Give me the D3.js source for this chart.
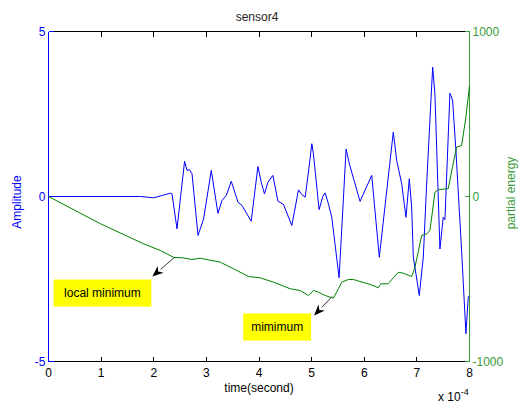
<!DOCTYPE html>
<html>
<head>
<meta charset="utf-8">
<script src="https://cdn.jsdelivr.net/npm/d3@7"></script>
<style>
  body { margin: 0; background: #fff; }
  svg text { font-family: "Liberation Sans", Arial, sans-serif; }
</style>
</head>
<body>
<div id="chart"></div>
<script>
// amplitude trace (time in 1e-4 s)
let ampTime = [0, 1.75, 2.0, 2.315, 2.347, 2.442, 2.586, 2.632, 2.681, 2.727, 2.841, 2.947, 3.093, 3.22, 3.296, 3.378, 3.473, 3.6, 3.676, 3.852, 3.979, 4.042, 4.104, 4.169, 4.264, 4.359, 4.465, 4.624, 4.75, 4.814, 4.877, 4.928, 5.004, 5.034, 5.142, 5.212, 5.256, 5.319, 5.383, 5.522, 5.655, 5.717, 5.92, 6.142, 6.286, 6.552, 6.617, 6.712, 6.793, 6.856, 6.901, 6.932, 7.046, 7.122, 7.186, 7.3, 7.343, 7.438, 7.501, 7.533, 7.628, 7.679, 7.742, 7.85, 7.932, 7.976, 8.0];
let amplitude = [0, 0, -0.04, 0.1, 0.08, -0.98, 1.07, 0.79, 0.81, 0.69, -1.18, -0.68, 0.79, -0.51, -0.12, 0.03, 0.46, -0.17, -0.27, -0.75, 0.91, 0.43, 0.08, 0.43, 0.64, -0.14, -0.24, -0.88, 0.2, 0.06, -0.02, 0.59, 1.6, 1.29, -0.4, 0.0, 0.11, -0.22, -0.63, -2.46, 1.44, 0.99, -0.15, 0.64, -1.84, 1.95, 1.09, 0.38, -0.63, 0.54, -0.32, -1.83, -3.0, -1.84, 0.38, 3.92, 3.11, -1.59, -0.63, -0.7, 3.13, 2.92, 1.39, -1.64, -4.16, -3.05, -3.0];

// partial energy trace
let energyTime = [0, 0.987, 1.808, 2.125, 2.385, 2.537, 2.727, 2.884, 3.042, 3.264, 3.516, 3.801, 4.023, 4.275, 4.592, 4.782, 4.939, 5.034, 5.129, 5.256, 5.414, 5.509, 5.573, 5.698, 5.793, 5.92, 6.11, 6.268, 6.313, 6.452, 6.647, 6.742, 6.901, 6.964, 7.091, 7.186, 7.249, 7.343, 7.406, 7.596, 7.679, 7.755, 7.85, 7.932, 8.0];
let energy = [0, -165, -287, -327, -370, -371, -382, -374, -384, -398, -438, -485, -493, -519, -559, -570, -600, -570, -580, -600, -616, -559, -519, -503, -503, -515, -533, -553, -529, -529, -459, -465, -485, -428, -236, -226, -206, 26, 41, 48, 182, 299, 309, 481, 673];

let xTicks = [0, 1, 2, 3, 4, 5, 6, 7, 8];
let leftTicks = [-5, 0, 5];
let rightTicks = [-1000, 0, 1000];

// annotation labels: box corners and arrow tail/head in data units (time, energy)
let noteText = ["local minimum", "mimimum"];
let noteBox = [[0.095, -503, 1.954, -667], [3.70, -709, 4.99, -873]];
let noteArrow = [[2.39, -370, 1.973, -485], [5.39, -606, 5.047, -721]];

let width = 520, height = 403;
let m = {left: 48.5, right: 469.5, top: 31.5, bottom: 361.5};
let blue = "#0000ff", green = "#008000", greenAxis = "#3a9a3a";

let svg = d3.select("#chart").append("svg")
	.attr("width", width)
	.attr("height", height);

let x = d3.scaleLinear().domain([0, 8]).range([m.left, m.right]);
let yL = d3.scaleLinear().domain([-5, 5]).range([m.bottom, m.top]);
let yR = d3.scaleLinear().domain([-1000, 1000]).range([m.bottom, m.top]);

// frame: top and bottom black
let frame = svg.append("g").attr("stroke", "#000").attr("stroke-width", 1)
	.attr("shape-rendering", "crispEdges");
frame.append("line").attr("x1", m.left).attr("x2", m.right).attr("y1", m.top).attr("y2", m.top);
frame.append("line").attr("x1", m.left).attr("x2", m.right).attr("y1", m.bottom).attr("y2", m.bottom);

// x ticks, inward on bottom and top
let xt = svg.append("g").attr("stroke", "#000").attr("shape-rendering", "crispEdges");
xTicks.forEach(function(t) {
	xt.append("line").attr("x1", x(t)).attr("x2", x(t)).attr("y1", m.bottom).attr("y2", m.bottom - 5);
	xt.append("line").attr("x1", x(t)).attr("x2", x(t)).attr("y1", m.top).attr("y2", m.top + 5);
});
svg.append("g").selectAll("text").data(xTicks).join("text")
	.attr("x", d => x(d))
	.attr("y", m.bottom + 15)
	.attr("text-anchor", "middle")
	.attr("font-size", 12)
	.attr("fill", "#000")
	.text(d => d);

// left axis
let la = svg.append("g").attr("shape-rendering", "crispEdges");
la.append("line").attr("x1", m.left).attr("x2", m.left).attr("y1", m.top).attr("y2", m.bottom)
	.attr("stroke", blue);
leftTicks.forEach(function(v) {
	la.append("line").attr("x1", m.left).attr("x2", m.left + 5).attr("y1", yL(v)).attr("y2", yL(v))
		.attr("stroke", blue);
});
svg.append("g").selectAll("text").data(leftTicks).join("text")
	.attr("x", m.left - 3)
	.attr("y", d => yL(d) + 4)
	.attr("text-anchor", "end")
	.attr("font-size", 12)
	.attr("fill", blue)
	.text(d => d);

// right axis
let ra = svg.append("g").attr("shape-rendering", "crispEdges");
ra.append("line").attr("x1", m.right).attr("x2", m.right).attr("y1", m.top).attr("y2", m.bottom)
	.attr("stroke", greenAxis);
rightTicks.forEach(function(v) {
	ra.append("line").attr("x1", m.right).attr("x2", m.right - 5).attr("y1", yR(v)).attr("y2", yR(v))
		.attr("stroke", greenAxis);
});
svg.append("g").selectAll("text").data(rightTicks).join("text")
	.attr("x", m.right + 3)
	.attr("y", d => yR(d) + 4)
	.attr("text-anchor", "start")
	.attr("font-size", 12)
	.attr("fill", greenAxis)
	.text(d => d);

// series
let ampLine = d3.line().x((d, i) => x(ampTime[i])).y(d => yL(d));
let enLine = d3.line().x((d, i) => x(energyTime[i])).y(d => yR(d));

svg.append("path").datum(amplitude)
	.attr("d", ampLine)
	.attr("fill", "none")
	.attr("stroke", blue)
	.attr("stroke-width", 1);

svg.append("path").datum(energy)
	.attr("d", enLine)
	.attr("fill", "none")
	.attr("stroke", green)
	.attr("stroke-width", 1);

// labels
svg.append("text").attr("x", 257).attr("y", 21).attr("text-anchor", "middle")
	.attr("font-size", 12).attr("fill", "#222").text("sensor4");
svg.append("text").attr("x", 259).attr("y", 392).attr("text-anchor", "middle")
	.attr("font-size", 12).attr("fill", "#000").text("time(second)");

let mult = svg.append("text").attr("x", 438).attr("y", 401).attr("font-size", 12).attr("fill", "#000");
mult.append("tspan").text("x 10");
mult.append("tspan").attr("dy", -6).attr("font-size", 9).text("-4");

svg.append("text")
	.attr("transform", "translate(21,202) rotate(-90)")
	.attr("text-anchor", "middle")
	.attr("font-size", 12)
	.attr("fill", blue)
	.text("Amplitude");

svg.append("text")
	.attr("transform", "translate(515,193) rotate(-90)")
	.attr("text-anchor", "middle")
	.attr("font-size", 12)
	.attr("fill", greenAxis)
	.text("partial energy");

// text arrows
noteText.forEach(function(txt, i) {
	let b = noteBox[i];
	let x0 = x(b[0]), x1 = x(b[2]), y0 = yR(b[1]), y1 = yR(b[3]);
	svg.append("rect").attr("x", x0).attr("y", y0)
		.attr("width", x1 - x0).attr("height", y1 - y0)
		.attr("fill", "#ffff00");
	svg.append("text").attr("x", (x0 + x1) / 2).attr("y", (y0 + y1) / 2 + 4)
		.attr("text-anchor", "middle").attr("font-size", 12).attr("fill", "#000")
		.text(txt);

	let a = noteArrow[i];
	let tx = x(a[0]), ty = yR(a[1]), hx = x(a[2]), hy = yR(a[3]);
	let ang = Math.atan2(hy - ty, hx - tx);
	let len = 11, half = 4.5;
	let bx = hx - len * Math.cos(ang), by = hy - len * Math.sin(ang);
	svg.append("line").attr("x1", tx).attr("y1", ty).attr("x2", bx).attr("y2", by)
		.attr("stroke", "#333").attr("stroke-width", 1);
	let p1 = [bx + half * Math.sin(ang), by - half * Math.cos(ang)];
	let p2 = [bx - half * Math.sin(ang), by + half * Math.cos(ang)];
	let notch = [hx - 0.7 * len * Math.cos(ang), hy - 0.7 * len * Math.sin(ang)];
	svg.append("path")
		.attr("d", "M" + hx + "," + hy + "L" + p1 + "L" + notch + "L" + p2 + "Z")
		.attr("fill", "#000");
});
</script>
</body>
</html>
